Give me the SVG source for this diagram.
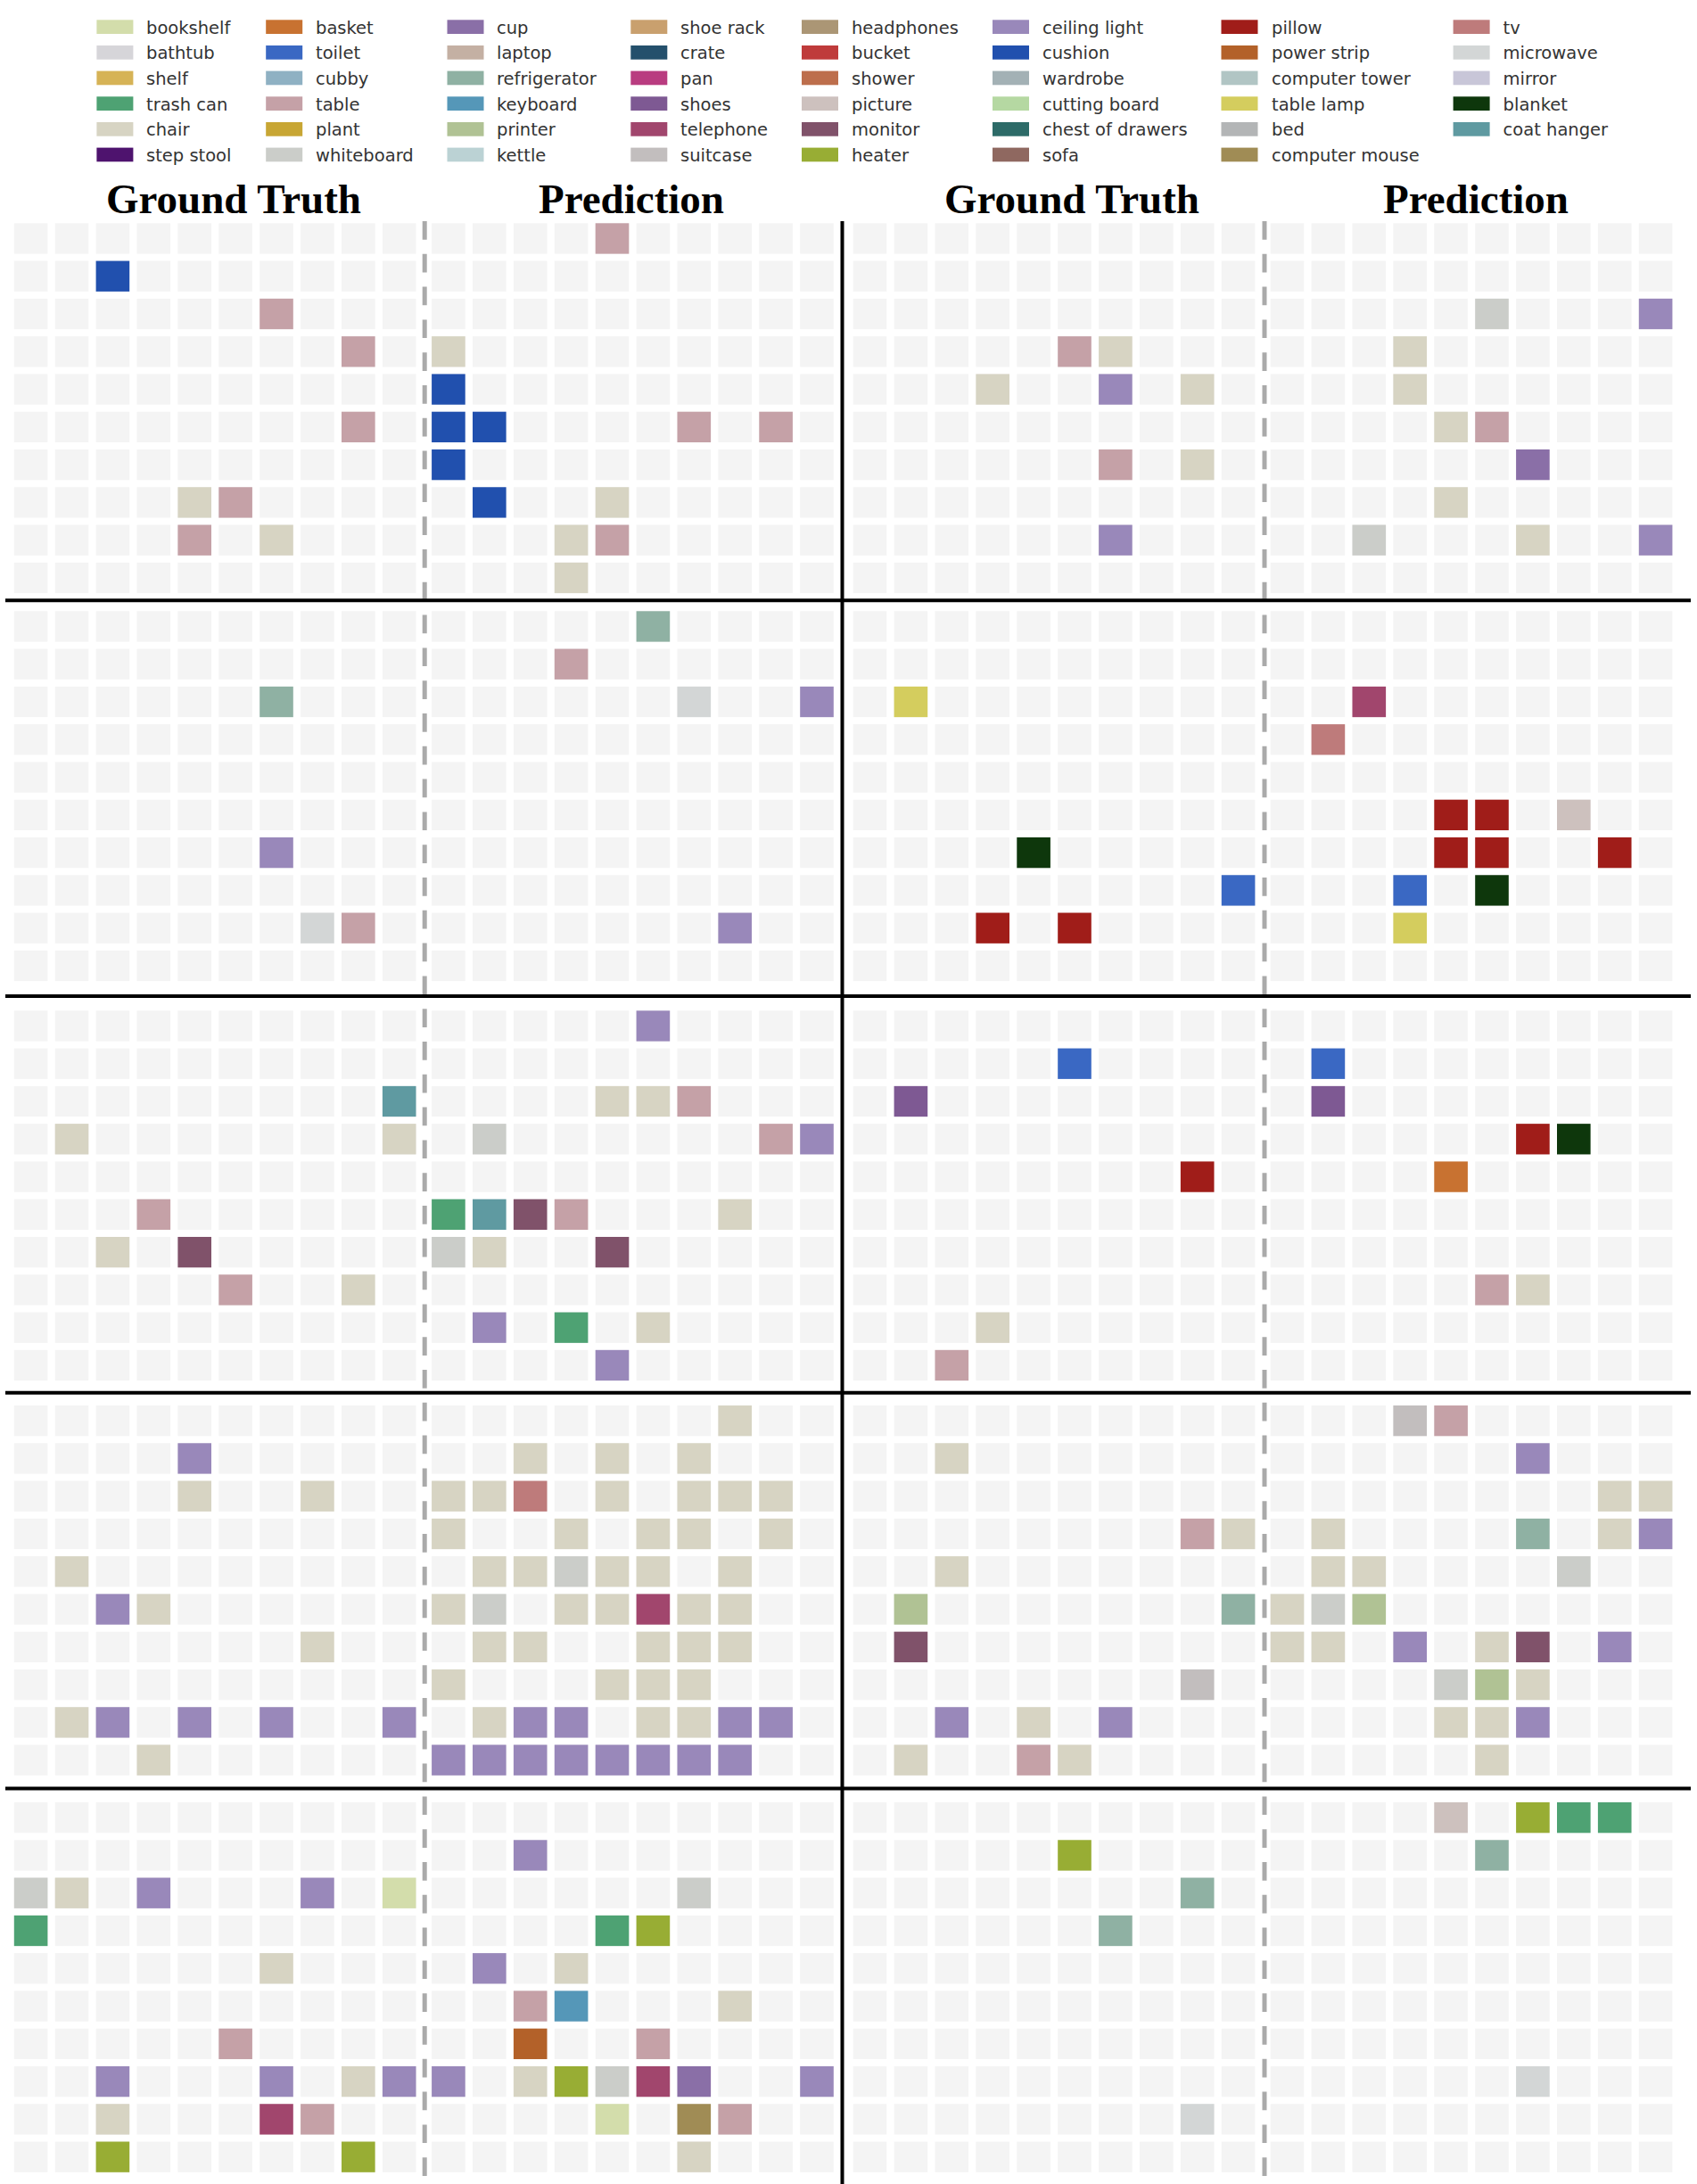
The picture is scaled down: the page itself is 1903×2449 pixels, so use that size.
<svg xmlns="http://www.w3.org/2000/svg" xmlns:xlink="http://www.w3.org/1999/xlink" width="1903" height="2449" viewBox="0 0 1903 2449">
<style>
.lt{font-family:"DejaVu Sans",sans-serif;font-size:19.5px;fill:#333}
.tt{font-family:"Liberation Serif","Times New Roman",serif;font-size:47px;font-weight:bold;fill:#000;text-anchor:middle}
.e{fill:#f4f4f4}
.bookshelf{fill:#d3ddab}.bathtub{fill:#d6d5d9}.shelf{fill:#d6b356}.trashcan{fill:#4ea273}.chair{fill:#d7d4c3}.stepstool{fill:#4e136e}
.basket{fill:#c87231}.toilet{fill:#3a68c3}.cubby{fill:#8fb1c3}.table{fill:#c5a1a7}.plant{fill:#c8a634}.whiteboard{fill:#cbcdc9}
.cup{fill:#8a6fa7}.laptop{fill:#c4b0a3}.refrigerator{fill:#8fb1a3}.keyboard{fill:#5597b8}.printer{fill:#b0c294}.kettle{fill:#bbd2d4}
.shoerack{fill:#c9a06e}.crate{fill:#24506c}.pan{fill:#b93c80}.shoes{fill:#7e5993}.telephone{fill:#a1466d}.suitcase{fill:#c2bebe}
.headphones{fill:#ab9675}.bucket{fill:#bf3b3b}.shower{fill:#bd6e4c}.picture{fill:#cdc1be}.monitor{fill:#80526a}.heater{fill:#98ad34}
.ceiling{fill:#9988ba}.cushion{fill:#2150ae}.wardrobe{fill:#a3b1b5}.cuttingboard{fill:#b5d8a2}.chest{fill:#2d6b68}.sofa{fill:#8f6860}
.pillow{fill:#a01d19}.powerstrip{fill:#b36129}.tower{fill:#b1c5c4}.tablelamp{fill:#d4cd5e}.bed{fill:#b3b5b6}.mouse{fill:#a08c55}
.tv{fill:#be7b7b}.microwave{fill:#d3d6d6}.mirror{fill:#c8c6d8}.blanket{fill:#0e370c}.coathanger{fill:#5f9aa1}
.g rect{width:.8192px;height:.8113px}
.sw{width:41px;height:15.7px}
</style>
<defs>
<g id="row">
<rect class="e" x="0" y="0" width=".8192" height=".8113"/><rect class="e" x="1" y="0" width=".8192" height=".8113"/><rect class="e" x="2" y="0" width=".8192" height=".8113"/><rect class="e" x="3" y="0" width=".8192" height=".8113"/><rect class="e" x="4" y="0" width=".8192" height=".8113"/><rect class="e" x="5" y="0" width=".8192" height=".8113"/><rect class="e" x="6" y="0" width=".8192" height=".8113"/><rect class="e" x="7" y="0" width=".8192" height=".8113"/><rect class="e" x="8" y="0" width=".8192" height=".8113"/><rect class="e" x="9" y="0" width=".8192" height=".8113"/>
</g>
<g id="empty">
<use href="#row" y="0"/><use href="#row" y="1"/><use href="#row" y="2"/><use href="#row" y="3"/><use href="#row" y="4"/><use href="#row" y="5"/><use href="#row" y="6"/><use href="#row" y="7"/><use href="#row" y="8"/><use href="#row" y="9"/>
</g>
</defs>
<rect width="1903" height="2449" fill="#fff"/>

<g id="legend">
<g id="lg-bookshelf"><rect class="bookshelf" x="108.4" y="22.3" width="41" height="15.7"/><text class="lt" x="164" y="37.6">bookshelf</text></g>
<g id="lg-bathtub"><rect class="bathtub" x="108.4" y="51" width="41" height="15.7"/><text class="lt" x="164" y="66.3">bathtub</text></g>
<g id="lg-shelf"><rect class="shelf" x="108.4" y="79.6" width="41" height="15.7"/><text class="lt" x="164" y="94.9">shelf</text></g>
<g id="lg-trashcan"><rect class="trashcan" x="108.4" y="108.3" width="41" height="15.7"/><text class="lt" x="164" y="123.6">trash can</text></g>
<g id="lg-chair"><rect class="chair" x="108.4" y="137" width="41" height="15.7"/><text class="lt" x="164" y="152.3">chair</text></g>
<g id="lg-stepstool"><rect class="stepstool" x="108.4" y="165.6" width="41" height="15.7"/><text class="lt" x="164" y="180.9">step stool</text></g>

<g id="lg-basket"><rect class="basket" x="298.2" y="22.3" width="41" height="15.7"/><text class="lt" x="354" y="37.6">basket</text></g>
<g id="lg-toilet"><rect class="toilet" x="298.2" y="51" width="41" height="15.7"/><text class="lt" x="354" y="66.3">toilet</text></g>
<g id="lg-cubby"><rect class="cubby" x="298.2" y="79.6" width="41" height="15.7"/><text class="lt" x="354" y="94.9">cubby</text></g>
<g id="lg-table"><rect class="table" x="298.2" y="108.3" width="41" height="15.7"/><text class="lt" x="354" y="123.6">table</text></g>
<g id="lg-plant"><rect class="plant" x="298.2" y="137" width="41" height="15.7"/><text class="lt" x="354" y="152.3">plant</text></g>
<g id="lg-whiteboard"><rect class="whiteboard" x="298.2" y="165.6" width="41" height="15.7"/><text class="lt" x="354" y="180.9">whiteboard</text></g>

<g id="lg-cup"><rect class="cup" x="501.5" y="22.3" width="41" height="15.7"/><text class="lt" x="557" y="37.6">cup</text></g>
<g id="lg-laptop"><rect class="laptop" x="501.5" y="51" width="41" height="15.7"/><text class="lt" x="557" y="66.3">laptop</text></g>
<g id="lg-refrigerator"><rect class="refrigerator" x="501.5" y="79.6" width="41" height="15.7"/><text class="lt" x="557" y="94.9">refrigerator</text></g>
<g id="lg-keyboard"><rect class="keyboard" x="501.5" y="108.3" width="41" height="15.7"/><text class="lt" x="557" y="123.6">keyboard</text></g>
<g id="lg-printer"><rect class="printer" x="501.5" y="137" width="41" height="15.7"/><text class="lt" x="557" y="152.3">printer</text></g>
<g id="lg-kettle"><rect class="kettle" x="501.5" y="165.6" width="41" height="15.7"/><text class="lt" x="557" y="180.9">kettle</text></g>

<g id="lg-shoerack"><rect class="shoerack" x="707.3" y="22.3" width="41" height="15.7"/><text class="lt" x="763" y="37.6">shoe rack</text></g>
<g id="lg-crate"><rect class="crate" x="707.3" y="51" width="41" height="15.7"/><text class="lt" x="763" y="66.3">crate</text></g>
<g id="lg-pan"><rect class="pan" x="707.3" y="79.6" width="41" height="15.7"/><text class="lt" x="763" y="94.9">pan</text></g>
<g id="lg-shoes"><rect class="shoes" x="707.3" y="108.3" width="41" height="15.7"/><text class="lt" x="763" y="123.6">shoes</text></g>
<g id="lg-telephone"><rect class="telephone" x="707.3" y="137" width="41" height="15.7"/><text class="lt" x="763" y="152.3">telephone</text></g>
<g id="lg-suitcase"><rect class="suitcase" x="707.3" y="165.6" width="41" height="15.7"/><text class="lt" x="763" y="180.9">suitcase</text></g>

<g id="lg-headphones"><rect class="headphones" x="899" y="22.3" width="41" height="15.7"/><text class="lt" x="955" y="37.6">headphones</text></g>
<g id="lg-bucket"><rect class="bucket" x="899" y="51" width="41" height="15.7"/><text class="lt" x="955" y="66.3">bucket</text></g>
<g id="lg-shower"><rect class="shower" x="899" y="79.6" width="41" height="15.7"/><text class="lt" x="955" y="94.9">shower</text></g>
<g id="lg-picture"><rect class="picture" x="899" y="108.3" width="41" height="15.7"/><text class="lt" x="955" y="123.6">picture</text></g>
<g id="lg-monitor"><rect class="monitor" x="899" y="137" width="41" height="15.7"/><text class="lt" x="955" y="152.3">monitor</text></g>
<g id="lg-heater"><rect class="heater" x="899" y="165.6" width="41" height="15.7"/><text class="lt" x="955" y="180.9">heater</text></g>

<g id="lg-ceilinglight"><rect class="ceiling" x="1113" y="22.3" width="41" height="15.7"/><text class="lt" x="1169" y="37.6">ceiling light</text></g>
<g id="lg-cushion"><rect class="cushion" x="1113" y="51" width="41" height="15.7"/><text class="lt" x="1169" y="66.3">cushion</text></g>
<g id="lg-wardrobe"><rect class="wardrobe" x="1113" y="79.6" width="41" height="15.7"/><text class="lt" x="1169" y="94.9">wardrobe</text></g>
<g id="lg-cuttingboard"><rect class="cuttingboard" x="1113" y="108.3" width="41" height="15.7"/><text class="lt" x="1169" y="123.6">cutting board</text></g>
<g id="lg-chest"><rect class="chest" x="1113" y="137" width="41" height="15.7"/><text class="lt" x="1169" y="152.3">chest of drawers</text></g>
<g id="lg-sofa"><rect class="sofa" x="1113" y="165.6" width="41" height="15.7"/><text class="lt" x="1169" y="180.9">sofa</text></g>

<g id="lg-pillow"><rect class="pillow" x="1369.5" y="22.3" width="41" height="15.7"/><text class="lt" x="1426" y="37.6">pillow</text></g>
<g id="lg-powerstrip"><rect class="powerstrip" x="1369.5" y="51" width="41" height="15.7"/><text class="lt" x="1426" y="66.3">power strip</text></g>
<g id="lg-tower"><rect class="tower" x="1369.5" y="79.6" width="41" height="15.7"/><text class="lt" x="1426" y="94.9">computer tower</text></g>
<g id="lg-tablelamp"><rect class="tablelamp" x="1369.5" y="108.3" width="41" height="15.7"/><text class="lt" x="1426" y="123.6">table lamp</text></g>
<g id="lg-bed"><rect class="bed" x="1369.5" y="137" width="41" height="15.7"/><text class="lt" x="1426" y="152.3">bed</text></g>
<g id="lg-mouse"><rect class="mouse" x="1369.5" y="165.6" width="41" height="15.7"/><text class="lt" x="1426" y="180.9">computer mouse</text></g>

<g id="lg-tv"><rect class="tv" x="1629.6" y="22.3" width="41" height="15.7"/><text class="lt" x="1685.6" y="37.6">tv</text></g>
<g id="lg-microwave"><rect class="microwave" x="1629.6" y="51" width="41" height="15.7"/><text class="lt" x="1685.6" y="66.3">microwave</text></g>
<g id="lg-mirror"><rect class="mirror" x="1629.6" y="79.6" width="41" height="15.7"/><text class="lt" x="1685.6" y="94.9">mirror</text></g>
<g id="lg-blanket"><rect class="blanket" x="1629.6" y="108.3" width="41" height="15.7"/><text class="lt" x="1685.6" y="123.6">blanket</text></g>
<g id="lg-coathanger"><rect class="coathanger" x="1629.6" y="137" width="41" height="15.7"/><text class="lt" x="1685.6" y="152.3">coat hanger</text></g>
</g>

<g id="titles">
<text class="tt" x="262" y="239">Ground Truth</text>
<text class="tt" x="708" y="239">Prediction</text>
<text class="tt" x="1202" y="239">Ground Truth</text>
<text class="tt" x="1655" y="239">Prediction</text>
</g>

<!-- Row 1 -->
<g id="r1-gt-left" class="g" transform="translate(15.8,250.3) scale(45.9,42.28)"><use href="#empty"/>
<rect class="cushion" x="2" y="1"/><rect class="table" x="6" y="2"/><rect class="table" x="8" y="3"/><rect class="table" x="8" y="5"/><rect class="chair" x="4" y="7"/><rect class="table" x="5" y="7"/><rect class="table" x="4" y="8"/><rect class="chair" x="6" y="8"/>
</g>
<g id="r1-pred-left" class="g" transform="translate(484.1,250.3) scale(45.9,42.28)"><use href="#empty"/>
<rect class="table" x="4" y="0"/><rect class="chair" x="0" y="3"/><rect class="cushion" x="0" y="4"/><rect class="cushion" x="0" y="5"/><rect class="cushion" x="1" y="5"/><rect class="table" x="6" y="5"/><rect class="table" x="8" y="5"/><rect class="cushion" x="0" y="6"/><rect class="cushion" x="1" y="7"/><rect class="chair" x="4" y="7"/><rect class="chair" x="3" y="8"/><rect class="table" x="4" y="8"/><rect class="chair" x="3" y="9"/>
</g>
<g id="r1-gt-right" class="g" transform="translate(956.7,250.3) scale(45.9,42.28)"><use href="#empty"/>
<rect class="table" x="5" y="3"/><rect class="chair" x="6" y="3"/><rect class="chair" x="3" y="4"/><rect class="ceiling" x="6" y="4"/><rect class="chair" x="8" y="4"/><rect class="table" x="6" y="6"/><rect class="chair" x="8" y="6"/><rect class="ceiling" x="6" y="8"/>
</g>
<g id="r1-pred-right" class="g" transform="translate(1424.7,250.3) scale(45.9,42.28)"><use href="#empty"/>
<rect class="whiteboard" x="5" y="2"/><rect class="ceiling" x="9" y="2"/><rect class="chair" x="3" y="3"/><rect class="chair" x="3" y="4"/><rect class="chair" x="4" y="5"/><rect class="table" x="5" y="5"/><rect class="cup" x="6" y="6"/><rect class="chair" x="4" y="7"/><rect class="whiteboard" x="2" y="8"/><rect class="chair" x="6" y="8"/><rect class="ceiling" x="9" y="8"/>
</g>

<!-- Row 2 -->
<g id="r2-gt-left" class="g" transform="translate(15.8,685.3) scale(45.9,42.28)"><use href="#empty"/>
<rect class="refrigerator" x="6" y="2"/><rect class="ceiling" x="6" y="6"/><rect class="microwave" x="7" y="8"/><rect class="table" x="8" y="8"/>
</g>
<g id="r2-pred-left" class="g" transform="translate(484.1,685.3) scale(45.9,42.28)"><use href="#empty"/>
<rect class="refrigerator" x="5" y="0"/><rect class="table" x="3" y="1"/><rect class="microwave" x="6" y="2"/><rect class="ceiling" x="9" y="2"/><rect class="ceiling" x="7" y="8"/>
</g>
<g id="r2-gt-right" class="g" transform="translate(956.7,685.3) scale(45.9,42.28)"><use href="#empty"/>
<rect class="tablelamp" x="1" y="2"/><rect class="blanket" x="4" y="6"/><rect class="toilet" x="9" y="7"/><rect class="pillow" x="3" y="8"/><rect class="pillow" x="5" y="8"/>
</g>
<g id="r2-pred-right" class="g" transform="translate(1424.7,685.3) scale(45.9,42.28)"><use href="#empty"/>
<rect class="telephone" x="2" y="2"/><rect class="tv" x="1" y="3"/><rect class="pillow" x="4" y="5"/><rect class="pillow" x="5" y="5"/><rect class="picture" x="7" y="5"/><rect class="pillow" x="4" y="6"/><rect class="pillow" x="5" y="6"/><rect class="pillow" x="8" y="6"/><rect class="toilet" x="3" y="7"/><rect class="blanket" x="5" y="7"/><rect class="tablelamp" x="3" y="8"/>
</g>

<!-- Row 3 -->
<g id="r3-gt-left" class="g" transform="translate(15.8,1133.3) scale(45.9,42.28)"><use href="#empty"/>
<rect class="coathanger" x="9" y="2"/><rect class="chair" x="1" y="3"/><rect class="chair" x="9" y="3"/><rect class="table" x="3" y="5"/><rect class="chair" x="2" y="6"/><rect class="monitor" x="4" y="6"/><rect class="table" x="5" y="7"/><rect class="chair" x="8" y="7"/>
</g>
<g id="r3-pred-left" class="g" transform="translate(484.1,1133.3) scale(45.9,42.28)"><use href="#empty"/>
<rect class="ceiling" x="5" y="0"/><rect class="chair" x="4" y="2"/><rect class="chair" x="5" y="2"/><rect class="table" x="6" y="2"/><rect class="whiteboard" x="1" y="3"/><rect class="table" x="8" y="3"/><rect class="ceiling" x="9" y="3"/><rect class="trashcan" x="0" y="5"/><rect class="coathanger" x="1" y="5"/><rect class="monitor" x="2" y="5"/><rect class="table" x="3" y="5"/><rect class="chair" x="7" y="5"/><rect class="whiteboard" x="0" y="6"/><rect class="chair" x="1" y="6"/><rect class="monitor" x="4" y="6"/><rect class="ceiling" x="1" y="8"/><rect class="trashcan" x="3" y="8"/><rect class="chair" x="5" y="8"/><rect class="ceiling" x="4" y="9"/>
</g>
<g id="r3-gt-right" class="g" transform="translate(956.7,1133.3) scale(45.9,42.28)"><use href="#empty"/>
<rect class="toilet" x="5" y="1"/><rect class="shoes" x="1" y="2"/><rect class="pillow" x="8" y="4"/><rect class="chair" x="3" y="8"/><rect class="table" x="2" y="9"/>
</g>
<g id="r3-pred-right" class="g" transform="translate(1424.7,1133.3) scale(45.9,42.28)"><use href="#empty"/>
<rect class="toilet" x="1" y="1"/><rect class="shoes" x="1" y="2"/><rect class="pillow" x="6" y="3"/><rect class="blanket" x="7" y="3"/><rect class="basket" x="4" y="4"/><rect class="table" x="5" y="7"/><rect class="chair" x="6" y="7"/>
</g>

<!-- Row 4 -->
<g id="r4-gt-left" class="g" transform="translate(15.8,1576) scale(45.9,42.28)"><use href="#empty"/>
<rect class="ceiling" x="4" y="1"/><rect class="chair" x="4" y="2"/><rect class="chair" x="7" y="2"/><rect class="chair" x="1" y="4"/><rect class="ceiling" x="2" y="5"/><rect class="chair" x="3" y="5"/><rect class="chair" x="7" y="6"/><rect class="chair" x="1" y="8"/><rect class="ceiling" x="2" y="8"/><rect class="ceiling" x="4" y="8"/><rect class="ceiling" x="6" y="8"/><rect class="ceiling" x="9" y="8"/><rect class="chair" x="3" y="9"/>
</g>
<g id="r4-pred-left" class="g" transform="translate(484.1,1576) scale(45.9,42.28)"><use href="#empty"/>
<rect class="chair" x="7" y="0"/>
<rect class="chair" x="2" y="1"/><rect class="chair" x="4" y="1"/><rect class="chair" x="6" y="1"/>
<rect class="chair" x="0" y="2"/><rect class="chair" x="1" y="2"/><rect class="tv" x="2" y="2"/><rect class="chair" x="4" y="2"/><rect class="chair" x="6" y="2"/><rect class="chair" x="7" y="2"/><rect class="chair" x="8" y="2"/>
<rect class="chair" x="0" y="3"/><rect class="chair" x="3" y="3"/><rect class="chair" x="5" y="3"/><rect class="chair" x="6" y="3"/><rect class="chair" x="8" y="3"/>
<rect class="chair" x="1" y="4"/><rect class="chair" x="2" y="4"/><rect class="whiteboard" x="3" y="4"/><rect class="chair" x="4" y="4"/><rect class="chair" x="5" y="4"/><rect class="chair" x="7" y="4"/>
<rect class="chair" x="0" y="5"/><rect class="whiteboard" x="1" y="5"/><rect class="chair" x="3" y="5"/><rect class="chair" x="4" y="5"/><rect class="telephone" x="5" y="5"/><rect class="chair" x="6" y="5"/><rect class="chair" x="7" y="5"/>
<rect class="chair" x="1" y="6"/><rect class="chair" x="2" y="6"/><rect class="chair" x="5" y="6"/><rect class="chair" x="6" y="6"/><rect class="chair" x="7" y="6"/>
<rect class="chair" x="0" y="7"/><rect class="chair" x="4" y="7"/><rect class="chair" x="5" y="7"/><rect class="chair" x="6" y="7"/>
<rect class="chair" x="1" y="8"/><rect class="ceiling" x="2" y="8"/><rect class="ceiling" x="3" y="8"/><rect class="chair" x="5" y="8"/><rect class="chair" x="6" y="8"/><rect class="ceiling" x="7" y="8"/><rect class="ceiling" x="8" y="8"/>
<rect class="ceiling" x="0" y="9"/><rect class="ceiling" x="1" y="9"/><rect class="ceiling" x="2" y="9"/><rect class="ceiling" x="3" y="9"/><rect class="ceiling" x="4" y="9"/><rect class="ceiling" x="5" y="9"/><rect class="ceiling" x="6" y="9"/><rect class="ceiling" x="7" y="9"/>
</g>
<g id="r4-gt-right" class="g" transform="translate(956.7,1576) scale(45.9,42.28)"><use href="#empty"/>
<rect class="chair" x="2" y="1"/><rect class="table" x="8" y="3"/><rect class="chair" x="9" y="3"/><rect class="chair" x="2" y="4"/><rect class="printer" x="1" y="5"/><rect class="refrigerator" x="9" y="5"/><rect class="monitor" x="1" y="6"/><rect class="suitcase" x="8" y="7"/><rect class="ceiling" x="2" y="8"/><rect class="chair" x="4" y="8"/><rect class="ceiling" x="6" y="8"/><rect class="chair" x="1" y="9"/><rect class="table" x="4" y="9"/><rect class="chair" x="5" y="9"/>
</g>
<g id="r4-pred-right" class="g" transform="translate(1424.7,1576) scale(45.9,42.28)"><use href="#empty"/>
<rect class="suitcase" x="3" y="0"/><rect class="table" x="4" y="0"/><rect class="ceiling" x="6" y="1"/><rect class="chair" x="8" y="2"/><rect class="chair" x="9" y="2"/><rect class="chair" x="1" y="3"/><rect class="refrigerator" x="6" y="3"/><rect class="chair" x="8" y="3"/><rect class="ceiling" x="9" y="3"/><rect class="chair" x="1" y="4"/><rect class="chair" x="2" y="4"/><rect class="whiteboard" x="7" y="4"/><rect class="chair" x="0" y="5"/><rect class="whiteboard" x="1" y="5"/><rect class="printer" x="2" y="5"/><rect class="chair" x="0" y="6"/><rect class="chair" x="1" y="6"/><rect class="ceiling" x="3" y="6"/><rect class="chair" x="5" y="6"/><rect class="monitor" x="6" y="6"/><rect class="ceiling" x="8" y="6"/><rect class="whiteboard" x="4" y="7"/><rect class="printer" x="5" y="7"/><rect class="chair" x="6" y="7"/><rect class="chair" x="4" y="8"/><rect class="chair" x="5" y="8"/><rect class="ceiling" x="6" y="8"/><rect class="chair" x="5" y="9"/>
</g>

<!-- Row 5 -->
<g id="r5-gt-left" class="g" transform="translate(15.8,2021) scale(45.9,42.28)"><use href="#empty"/>
<rect class="whiteboard" x="0" y="2"/><rect class="chair" x="1" y="2"/><rect class="ceiling" x="3" y="2"/><rect class="ceiling" x="7" y="2"/><rect class="bookshelf" x="9" y="2"/><rect class="trashcan" x="0" y="3"/><rect class="chair" x="6" y="4"/><rect class="table" x="5" y="6"/><rect class="ceiling" x="2" y="7"/><rect class="ceiling" x="6" y="7"/><rect class="chair" x="8" y="7"/><rect class="ceiling" x="9" y="7"/><rect class="chair" x="2" y="8"/><rect class="telephone" x="6" y="8"/><rect class="table" x="7" y="8"/><rect class="heater" x="2" y="9"/><rect class="heater" x="8" y="9"/>
</g>
<g id="r5-pred-left" class="g" transform="translate(484.1,2021) scale(45.9,42.28)"><use href="#empty"/>
<rect class="ceiling" x="2" y="1"/><rect class="whiteboard" x="6" y="2"/><rect class="trashcan" x="4" y="3"/><rect class="heater" x="5" y="3"/><rect class="ceiling" x="1" y="4"/><rect class="chair" x="3" y="4"/><rect class="table" x="2" y="5"/><rect class="keyboard" x="3" y="5"/><rect class="chair" x="7" y="5"/><rect class="powerstrip" x="2" y="6"/><rect class="table" x="5" y="6"/><rect class="ceiling" x="0" y="7"/><rect class="chair" x="2" y="7"/><rect class="heater" x="3" y="7"/><rect class="whiteboard" x="4" y="7"/><rect class="telephone" x="5" y="7"/><rect class="cup" x="6" y="7"/><rect class="ceiling" x="9" y="7"/><rect class="bookshelf" x="4" y="8"/><rect class="mouse" x="6" y="8"/><rect class="table" x="7" y="8"/><rect class="chair" x="6" y="9"/>
</g>
<g id="r5-gt-right" class="g" transform="translate(956.7,2021) scale(45.9,42.28)"><use href="#empty"/>
<rect class="heater" x="5" y="1"/><rect class="refrigerator" x="8" y="2"/><rect class="refrigerator" x="6" y="3"/><rect class="microwave" x="8" y="8"/>
</g>
<g id="r5-pred-right" class="g" transform="translate(1424.7,2021) scale(45.9,42.28)"><use href="#empty"/>
<rect class="picture" x="4" y="0"/><rect class="heater" x="6" y="0"/><rect class="trashcan" x="7" y="0"/><rect class="trashcan" x="8" y="0"/><rect class="refrigerator" x="5" y="1"/><rect class="microwave" x="6" y="7"/>
</g>

<g id="connectors" fill="none">
<line x1="476.2" y1="248" x2="476.2" y2="2449" stroke="#aaaaaa" stroke-width="5" stroke-dasharray="20.7 16.1"/>
<line x1="1418" y1="248" x2="1418" y2="2449" stroke="#aaaaaa" stroke-width="5" stroke-dasharray="20.7 16.1"/>
<line x1="944.5" y1="248" x2="944.5" y2="2449" stroke="#000" stroke-width="4"/>
<line x1="6" y1="673.3" x2="1896" y2="673.3" stroke="#000" stroke-width="4"/>
<line x1="6" y1="1116.9" x2="1896" y2="1116.9" stroke="#000" stroke-width="4"/>
<line x1="6" y1="1561.7" x2="1896" y2="1561.7" stroke="#000" stroke-width="4"/>
<line x1="6" y1="2005.5" x2="1896" y2="2005.5" stroke="#000" stroke-width="4"/>
</g>
</svg>
